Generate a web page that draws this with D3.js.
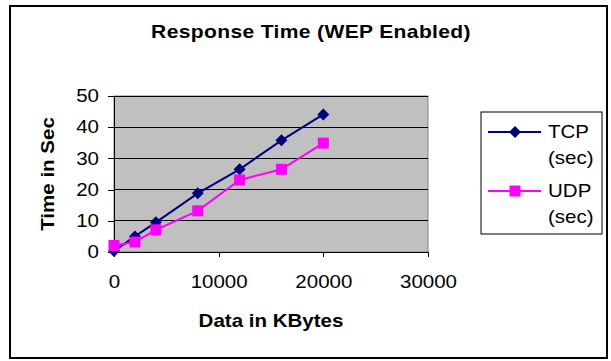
<!DOCTYPE html>
<html>
<head>
<meta charset="utf-8">
<script src="https://cdn.jsdelivr.net/npm/d3@7/dist/d3.min.js"></script>
<style>
  body { margin: 0; background: #fff; }
  text { font-family: "Liberation Sans", Arial, sans-serif; fill: #000; }
</style>
</head>
<body>
<svg id="chart" width="611" height="361"></svg>
<script>
// data
const dataSizes = [0, 2000, 4000, 8000, 12000, 16000, 20000];
const tcpTimes = [0.3, 5, 9.5, 18.8, 26.5, 35.8, 44.1];
const udpTimes = [2.1, 3.2, 7.1, 13.2, 23.1, 26.5, 34.9];
const xTicks = [0, 10000, 20000, 30000];
const yTicks = [0, 10, 20, 30, 40, 50];
const seriesNames = ['TCP', 'UDP'];

const series = [
  { name: seriesNames[0], values: tcpTimes, color: '#000080', marker: 'diamond' },
  { name: seriesNames[1], values: udpTimes, color: '#FF00FF', marker: 'square' },
];

const plot = { left: 114, top: 96, right: 428, bottom: 252 };
const STRETCH = 1.14; // text in the source is a little wider than plain Arial

const svg = d3.select('#chart');

// text helper: stretch horizontally around its anchor point
const addText = (parent, str, tx, ty, opts = {}) => {
  const g = parent.append('g')
    .attr('transform', `translate(${tx},${ty}) rotate(${opts.rotate || 0}) scale(${opts.sx || STRETCH},1)`);
  return g.append('text')
    .attr('text-anchor', opts.anchor || 'middle')
    .attr('font-size', opts.size || 18)
    .attr('font-weight', opts.bold ? 'bold' : 'normal')
    .text(str);
};

// outer chart border
svg.append('rect')
  .attr('x', 10).attr('y', 6)
  .attr('width', 597).attr('height', 352)
  .attr('fill', '#fff')
  .attr('stroke', '#000')
  .attr('stroke-width', 2);

const x = d3.scaleLinear().domain([0, 30000]).range([plot.left, plot.right]);
const y = d3.scaleLinear().domain([0, 50]).range([plot.bottom, plot.top]);

// plot area
svg.append('rect')
  .attr('x', plot.left).attr('y', plot.top)
  .attr('width', plot.right - plot.left).attr('height', plot.bottom - plot.top)
  .attr('fill', '#C0C0C0')
  .attr('stroke', '#808080');

// gridlines
svg.append('g')
  .selectAll('line')
  .data(yTicks.filter((d) => d > 0))
  .join('line')
  .attr('x1', plot.left).attr('x2', plot.right)
  .attr('y1', (d) => y(d)).attr('y2', (d) => y(d))
  .attr('stroke', '#000')
  .attr('shape-rendering', 'crispEdges');

// axes
const xAxis = svg.append('g')
  .attr('transform', `translate(0,${plot.bottom})`)
  .call(d3.axisBottom(x).tickValues(xTicks).tickFormat(d3.format('d')).tickSize(5).tickPadding(18));
const yAxis = svg.append('g')
  .attr('transform', `translate(${plot.left},0)`)
  .call(d3.axisLeft(y).tickValues(yTicks).tickSize(6).tickPadding(9));

[xAxis, yAxis].forEach((g) => {
  g.select('.domain').attr('stroke', '#000').attr('shape-rendering', 'crispEdges');
  g.selectAll('.tick line').attr('stroke', '#000').attr('shape-rendering', 'crispEdges');
  g.selectAll('.tick text')
    .attr('font-size', 18)
    .attr('font-family', '"Liberation Sans", Arial, sans-serif')
    .attr('fill', '#000')
    .attr('transform', `scale(${STRETCH},1)`);
});
yAxis.selectAll('.tick text').attr('x', -15 / STRETCH);

// lines + markers
const line = d3.line()
  .x((d, i) => x(dataSizes[i]))
  .y((d) => y(d));

const drawMarker = (g, type, cx, cy, color, size) => {
  if (type === 'diamond') {
    g.append('path')
      .attr('d', `M${cx},${cy - size}L${cx + size},${cy}L${cx},${cy + size}L${cx - size},${cy}Z`)
      .attr('fill', color);
  } else {
    g.append('rect')
      .attr('x', cx - size).attr('y', cy - size)
      .attr('width', size * 2).attr('height', size * 2)
      .attr('fill', color);
  }
};

series.forEach((s) => {
  const g = svg.append('g');
  g.append('path')
    .attr('d', line(s.values))
    .attr('fill', 'none')
    .attr('stroke', s.color)
    .attr('stroke-width', 2);
  s.values.forEach((v, i) => {
    drawMarker(g, s.marker, x(dataSizes[i]), y(v), s.color, s.marker === 'diamond' ? 6 : 5.5);
  });
});

// title
addText(svg, 'Response Time (WEP Enabled)', 311, 38, { bold: true, sx: 1.17 })
  .attr('letter-spacing', 0.3);

// axis titles
addText(svg, 'Data in KBytes', (plot.left + plot.right) / 2, 327, { bold: true });
addText(svg, 'Time in Sec', 54, (plot.top + plot.bottom) / 2, { bold: true, rotate: -90 });

// legend
const legend = svg.append('g');
legend.append('rect')
  .attr('x', 481).attr('y', 112)
  .attr('width', 121).attr('height', 122)
  .attr('fill', '#fff')
  .attr('stroke', '#000');

series.forEach((s, i) => {
  const ly = 132 + i * 59;
  legend.append('line')
    .attr('x1', 488).attr('x2', 541)
    .attr('y1', ly).attr('y2', ly)
    .attr('stroke', s.color)
    .attr('stroke-width', 2);
  drawMarker(legend, s.marker, 515, ly, s.color, s.marker === 'diamond' ? 6 : 5.5);
  addText(legend, s.name, 548, ly + 6, { anchor: 'start' });
  addText(legend, '(sec)', 548, ly + 32, { anchor: 'start' });
});
</script>
</body>
</html>
